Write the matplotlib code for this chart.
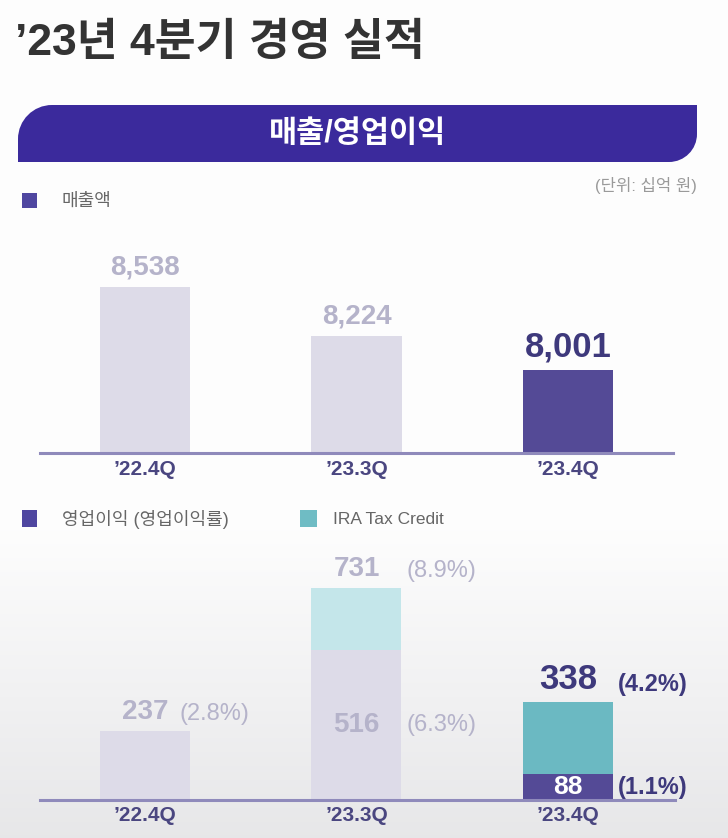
import matplotlib
matplotlib.use('Agg')
import matplotlib.pyplot as plt
from matplotlib.patches import Rectangle, PathPatch
from matplotlib.path import Path
import numpy as np

plt.rcParams['font.family'] = ['Liberation Sans', 'Noto Sans CJK KR', 'DejaVu Sans']

# ---------------- data ----------------
quarters = ['’22.4Q', '’23.3Q', '’23.4Q']
revenue = [8538, 8224, 8001]
op_income = [237, 516, 88]
ira_credit = [0, 215, 250]
op_margin = [2.8, 6.3, 1.1]
total_margin = [None, 8.9, 4.2]

title = '’23년 4분기 경영 실적'
banner = '매출/영업이익'
unit = '(단위: 십억 원)'
legend_rev = '매출액'
legend_op = '영업이익 (영업이익률)'
legend_ira = 'IRA Tax Credit'

# ---------------- style ----------------
LIGHT = '#dddbe8'
DARK = '#544a96'
TEAL = '#6bb9c2'
TEAL_LIGHT = '#c4e6ea'
LBL_LIGHT = '#b5b3ca'
LBL_DARK = '#3e397c'
TICK = '#4a4680'
AXLINE = '#8f8abb'
BANNER = '#3b2a9c'

W, H = 728, 838
fig = plt.figure(figsize=(W / 100, H / 100), dpi=100)

# background / decoration axes in pixel coordinates
bg = fig.add_axes([0, 0, 1, 1])
bg.set_xlim(0, W)
bg.set_ylim(H, 0)
bg.axis('off')
yy = np.arange(H)
t = np.clip((yy - 520) / (H - 520), 0, 1)
top_c = np.array([0.995, 0.995, 0.995])
bot_c = np.array([0.905, 0.905, 0.912])
img = top_c[None, :] * (1 - t[:, None]) + bot_c[None, :] * t[:, None]
bg.imshow(img[:, None, :], extent=[0, W, H, 0], aspect='auto', zorder=0)

# title
bg.text(15, 43, title, fontsize=32, fontweight='bold', color='#333333',
        ha='left', va='center', zorder=2)

# banner with rounded top-left and bottom-right corners
x0, x1, y0, y1 = 18, 697, 105, 162
r1, r2 = 34, 28
k = 0.5523
verts = [
    (x0, y1), (x0, y0 + r1),
    (x0, y0 + r1 - k * r1), (x0 + r1 - k * r1, y0), (x0 + r1, y0),
    (x1, y0), (x1, y1 - r2),
    (x1, y1 - r2 + k * r2), (x1 - r2 + k * r2, y1), (x1 - r2, y1),
    (x0, y1), (x0, y1),
]
codes = [Path.MOVETO, Path.LINETO,
         Path.CURVE4, Path.CURVE4, Path.CURVE4,
         Path.LINETO, Path.LINETO,
         Path.CURVE4, Path.CURVE4, Path.CURVE4,
         Path.LINETO, Path.CLOSEPOLY]
bg.add_patch(PathPatch(Path(verts, codes), facecolor=BANNER, edgecolor='none', zorder=2))
bg.text((x0 + x1) / 2, 134, banner, fontsize=22, fontweight='bold', color='white',
        ha='center', va='center', zorder=3)

bg.text(697, 185, unit, fontsize=12, color='#9a9a9a', ha='right', va='center', zorder=2)

# legends
bg.add_patch(Rectangle((22, 193), 15, 15, facecolor='#4f46a0', edgecolor='none', zorder=2))
bg.text(62, 201, legend_rev, fontsize=13, color='#666666', ha='left', va='center', zorder=2)
bg.add_patch(Rectangle((22, 510), 15, 17, facecolor='#4f46a0', edgecolor='none', zorder=2))
bg.text(62, 519, legend_op, fontsize=13, color='#666666', ha='left', va='center', zorder=2)
bg.add_patch(Rectangle((300, 510), 17, 17, facecolor='#6fbcc4', edgecolor='none', zorder=2))
bg.text(333, 519, legend_ira, fontsize=12.5, color='#666666', ha='left', va='center', zorder=2)


def px_axes(left, right, top, bottom):
    return fig.add_axes([left / W, 1 - bottom / H, (right - left) / W, (bottom - top) / H])


x = np.arange(len(quarters))
bw = 0.4255
hl = len(quarters) - 1


def style_axes(ax):
    ax.set_facecolor('none')
    for s in ['top', 'right', 'left']:
        ax.spines[s].set_visible(False)
    ax.spines['bottom'].set_color(AXLINE)
    ax.spines['bottom'].set_linewidth(2.2)
    ax.spines['bottom'].set_zorder(5)
    ax.set_yticks([])
    ax.set_xticks(x)
    ax.set_xticklabels(quarters, fontsize=15, fontweight='bold', color=TICK)
    ax.tick_params(axis='x', length=0, pad=5)


# ---------------- revenue chart ----------------
ax1 = px_axes(40, 673, 240, 453)
rev_colors = [DARK if i == hl else LIGHT for i in range(len(x))]
ax1.bar(x, revenue, width=bw, color=rev_colors, zorder=2)
ax1.set_xlim(-0.496, 2.496)
ax1.set_ylim(7464, 8842)
style_axes(ax1)
for i, v in enumerate(revenue):
    big = i == hl
    ax1.annotate(f'{v:,}', (x[i], v), xytext=(0, 6), textcoords='offset pixels',
                 ha='center', va='bottom', fontsize=25 if big else 20,
                 fontweight='bold', color=LBL_DARK if big else LBL_LIGHT)

# ---------------- operating income chart ----------------
ax2 = px_axes(40, 675, 560, 800)
op_colors = [DARK if i == hl else LIGHT for i in range(len(x))]
ira_colors = [TEAL if i == hl else TEAL_LIGHT for i in range(len(x))]
ax2.bar(x, op_income, width=bw, color=op_colors, zorder=2)
ax2.bar(x, ira_credit, bottom=op_income, width=bw, color=ira_colors, zorder=2)
ax2.set_xlim(-0.496, 2.506)
ax2.set_ylim(0, 828)
style_axes(ax2)
ax2.tick_params(axis='x', pad=4)

margin_dx = [35, 50, 50]
for i in range(len(x)):
    big = i == hl
    total = op_income[i] + ira_credit[i]
    c_top = LBL_DARK if big else LBL_LIGHT
    mw = 'bold' if big else 'normal'
    if ira_credit[i] > 0:
        ax2.annotate(f'{total:,}', (x[i], total), xytext=(0, 6), textcoords='offset pixels',
                     ha='center', va='bottom', fontsize=25 if big else 20,
                     fontweight='bold', color=c_top)
        ax2.annotate(f'({total_margin[i]}%)', (x[i], total), xytext=(margin_dx[i], 6),
                     textcoords='offset pixels', ha='left', va='bottom',
                     fontsize=17, fontweight=mw, color=c_top)
        ax2.annotate(f'{op_income[i]:,}', (x[i], op_income[i] / 2), xytext=(0, 0),
                     textcoords='offset pixels', ha='center', va='center',
                     fontsize=20 if not big else 19, fontweight='bold',
                     color='white' if big else LBL_LIGHT)
        ax2.annotate(f'({op_margin[i]}%)', (x[i], op_income[i] / 2), xytext=(margin_dx[i], 0),
                     textcoords='offset pixels', ha='left', va='center',
                     fontsize=17, fontweight=mw, color=c_top)
    else:
        ax2.annotate(f'{op_income[i]:,}', (x[i], op_income[i]), xytext=(0, 6),
                     textcoords='offset pixels', ha='center', va='bottom',
                     fontsize=20, fontweight='bold', color=c_top)
        ax2.annotate(f'({op_margin[i]}%)', (x[i], op_income[i]), xytext=(margin_dx[i], 6),
                     textcoords='offset pixels', ha='left', va='bottom',
                     fontsize=17, fontweight=mw, color=c_top)

fig.savefig('out.png', dpi=100)
